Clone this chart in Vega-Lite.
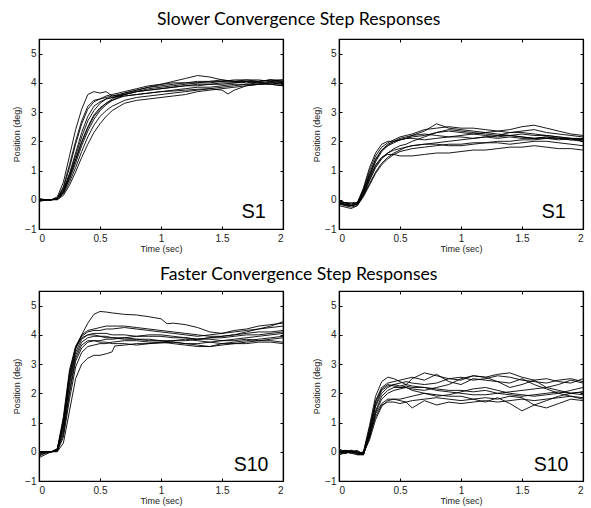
{
"$schema":"https://vega.github.io/schema/vega-lite/v6.json",
"padding":{"left":11,"top":11,"right":2,"bottom":2},
"background":"white",
"config":{
 "view":{"stroke":"black","strokeWidth":1.2},
 "axis":{"grid":false,"domainColor":"black","domainWidth":1.2,"tickColor":"black","tickSize":-3,"labelFont":"Liberation Sans","labelFontSize":10,"labelColor":"#222","titleFont":"Liberation Sans","titleFontSize":9,"titleFontWeight":"normal","titleColor":"#222","format":"~g"},
 "axisX":{"labelPadding":7,"titlePadding":1},
 "axisY":{"labelPadding":6,"titlePadding":3},
 "title":{"font":"Lato","fontSize":17.6,"fontWeight":"normal","color":"black","anchor":"middle"}
},
"vconcat":[
{"title":{"text":"Slower Convergence Step Responses","offset":9},
 "spacing":25,
 "hconcat":[
 {"width":244,"height":190,
  "layer":[
   {"data":{"values":[
{"c":1,"t":0,"y":0},{"c":1,"t":0.05,"y":0},{"c":1,"t":0.1,"y":0},{"c":1,"t":0.15,"y":0.1},{"c":1,"t":0.2,"y":0.6},{"c":1,"t":0.25,"y":1.5},{"c":1,"t":0.3,"y":2.4},{"c":1,"t":0.35,"y":3.1},{"c":1,"t":0.4,"y":3.6},{"c":1,"t":0.45,"y":3.7},{"c":1,"t":0.5,"y":3.65},{"c":1,"t":0.55,"y":3.7},{"c":1,"t":0.6,"y":3.55},{"c":1,"t":0.7,"y":3.6},{"c":1,"t":0.8,"y":3.7},{"c":1,"t":0.9,"y":3.75},{"c":1,"t":1,"y":3.8},{"c":1,"t":1.1,"y":3.85},{"c":1,"t":1.2,"y":3.9},{"c":1,"t":1.3,"y":3.95},{"c":1,"t":1.4,"y":3.95},{"c":1,"t":1.5,"y":4},{"c":1,"t":1.6,"y":4},{"c":1,"t":1.7,"y":4.05},{"c":1,"t":1.8,"y":4},{"c":1,"t":1.9,"y":4.05},{"c":1,"t":2,"y":4},
{"c":2,"t":0,"y":-0.05},{"c":2,"t":0.05,"y":0},{"c":2,"t":0.1,"y":0},{"c":2,"t":0.15,"y":0.05},{"c":2,"t":0.2,"y":0.4},{"c":2,"t":0.25,"y":1.1},{"c":2,"t":0.3,"y":1.9},{"c":2,"t":0.35,"y":2.6},{"c":2,"t":0.4,"y":3.1},{"c":2,"t":0.45,"y":3.35},{"c":2,"t":0.5,"y":3.45},{"c":2,"t":0.55,"y":3.5},{"c":2,"t":0.6,"y":3.55},{"c":2,"t":0.7,"y":3.65},{"c":2,"t":0.8,"y":3.75},{"c":2,"t":0.9,"y":3.85},{"c":2,"t":1,"y":3.95},{"c":2,"t":1.1,"y":4.05},{"c":2,"t":1.2,"y":4.15},{"c":2,"t":1.3,"y":4.25},{"c":2,"t":1.4,"y":4.2},{"c":2,"t":1.5,"y":4.1},{"c":2,"t":1.6,"y":4.05},{"c":2,"t":1.7,"y":4.05},{"c":2,"t":1.8,"y":4},{"c":2,"t":1.9,"y":4},{"c":2,"t":2,"y":3.95},
{"c":3,"t":0,"y":0},{"c":3,"t":0.05,"y":0},{"c":3,"t":0.1,"y":0},{"c":3,"t":0.15,"y":0.05},{"c":3,"t":0.2,"y":0.35},{"c":3,"t":0.25,"y":0.9},{"c":3,"t":0.3,"y":1.6},{"c":3,"t":0.35,"y":2.3},{"c":3,"t":0.4,"y":2.85},{"c":3,"t":0.45,"y":3.2},{"c":3,"t":0.5,"y":3.35},{"c":3,"t":0.55,"y":3.45},{"c":3,"t":0.6,"y":3.5},{"c":3,"t":0.7,"y":3.6},{"c":3,"t":0.8,"y":3.7},{"c":3,"t":0.9,"y":3.75},{"c":3,"t":1,"y":3.8},{"c":3,"t":1.1,"y":3.85},{"c":3,"t":1.2,"y":3.9},{"c":3,"t":1.3,"y":3.9},{"c":3,"t":1.4,"y":3.95},{"c":3,"t":1.5,"y":3.95},{"c":3,"t":1.6,"y":4},{"c":3,"t":1.7,"y":4.05},{"c":3,"t":1.8,"y":4.05},{"c":3,"t":1.9,"y":4.1},{"c":3,"t":2,"y":4.05},
{"c":4,"t":0,"y":0.05},{"c":4,"t":0.05,"y":0},{"c":4,"t":0.1,"y":0},{"c":4,"t":0.15,"y":0.05},{"c":4,"t":0.2,"y":0.3},{"c":4,"t":0.25,"y":0.8},{"c":4,"t":0.3,"y":1.4},{"c":4,"t":0.35,"y":2},{"c":4,"t":0.4,"y":2.5},{"c":4,"t":0.45,"y":2.9},{"c":4,"t":0.5,"y":3.15},{"c":4,"t":0.55,"y":3.3},{"c":4,"t":0.6,"y":3.4},{"c":4,"t":0.7,"y":3.55},{"c":4,"t":0.8,"y":3.6},{"c":4,"t":0.9,"y":3.65},{"c":4,"t":1,"y":3.7},{"c":4,"t":1.1,"y":3.75},{"c":4,"t":1.2,"y":3.8},{"c":4,"t":1.3,"y":3.85},{"c":4,"t":1.4,"y":3.85},{"c":4,"t":1.5,"y":3.9},{"c":4,"t":1.6,"y":3.95},{"c":4,"t":1.7,"y":3.95},{"c":4,"t":1.8,"y":4},{"c":4,"t":1.9,"y":3.95},{"c":4,"t":2,"y":3.9},
{"c":5,"t":0,"y":-0.05},{"c":5,"t":0.05,"y":0},{"c":5,"t":0.1,"y":0},{"c":5,"t":0.15,"y":0.02},{"c":5,"t":0.2,"y":0.25},{"c":5,"t":0.25,"y":0.7},{"c":5,"t":0.3,"y":1.25},{"c":5,"t":0.35,"y":1.85},{"c":5,"t":0.4,"y":2.35},{"c":5,"t":0.45,"y":2.75},{"c":5,"t":0.5,"y":3.05},{"c":5,"t":0.55,"y":3.25},{"c":5,"t":0.6,"y":3.4},{"c":5,"t":0.7,"y":3.6},{"c":5,"t":0.8,"y":3.7},{"c":5,"t":0.9,"y":3.8},{"c":5,"t":1,"y":3.85},{"c":5,"t":1.1,"y":3.9},{"c":5,"t":1.2,"y":3.95},{"c":5,"t":1.3,"y":4},{"c":5,"t":1.4,"y":4},{"c":5,"t":1.5,"y":4.05},{"c":5,"t":1.6,"y":4.05},{"c":5,"t":1.7,"y":4.1},{"c":5,"t":1.8,"y":4.05},{"c":5,"t":1.9,"y":4.1},{"c":5,"t":2,"y":4.1},
{"c":6,"t":0,"y":0},{"c":6,"t":0.05,"y":0},{"c":6,"t":0.1,"y":0},{"c":6,"t":0.15,"y":0.02},{"c":6,"t":0.2,"y":0.2},{"c":6,"t":0.25,"y":0.6},{"c":6,"t":0.3,"y":1.1},{"c":6,"t":0.35,"y":1.65},{"c":6,"t":0.4,"y":2.15},{"c":6,"t":0.45,"y":2.55},{"c":6,"t":0.5,"y":2.85},{"c":6,"t":0.55,"y":3.05},{"c":6,"t":0.6,"y":3.2},{"c":6,"t":0.7,"y":3.4},{"c":6,"t":0.8,"y":3.5},{"c":6,"t":0.9,"y":3.55},{"c":6,"t":1,"y":3.6},{"c":6,"t":1.1,"y":3.65},{"c":6,"t":1.2,"y":3.7},{"c":6,"t":1.3,"y":3.75},{"c":6,"t":1.4,"y":3.8},{"c":6,"t":1.5,"y":3.85},{"c":6,"t":1.6,"y":3.9},{"c":6,"t":1.7,"y":3.95},{"c":6,"t":1.8,"y":3.95},{"c":6,"t":1.9,"y":4},{"c":6,"t":2,"y":3.95},
{"c":7,"t":0,"y":0},{"c":7,"t":0.05,"y":0},{"c":7,"t":0.1,"y":0},{"c":7,"t":0.15,"y":0},{"c":7,"t":0.2,"y":0.15},{"c":7,"t":0.25,"y":0.5},{"c":7,"t":0.3,"y":0.95},{"c":7,"t":0.35,"y":1.45},{"c":7,"t":0.4,"y":1.9},{"c":7,"t":0.45,"y":2.3},{"c":7,"t":0.5,"y":2.6},{"c":7,"t":0.55,"y":2.85},{"c":7,"t":0.6,"y":3.05},{"c":7,"t":0.7,"y":3.3},{"c":7,"t":0.8,"y":3.4},{"c":7,"t":0.9,"y":3.45},{"c":7,"t":1,"y":3.5},{"c":7,"t":1.1,"y":3.55},{"c":7,"t":1.2,"y":3.6},{"c":7,"t":1.3,"y":3.7},{"c":7,"t":1.4,"y":3.75},{"c":7,"t":1.5,"y":3.8},{"c":7,"t":1.6,"y":3.85},{"c":7,"t":1.7,"y":3.9},{"c":7,"t":1.8,"y":3.95},{"c":7,"t":1.9,"y":3.95},{"c":7,"t":2,"y":3.9},
{"c":8,"t":0,"y":0},{"c":8,"t":0.05,"y":0},{"c":8,"t":0.1,"y":0},{"c":8,"t":0.15,"y":0.03},{"c":8,"t":0.2,"y":0.3},{"c":8,"t":0.25,"y":0.85},{"c":8,"t":0.3,"y":1.5},{"c":8,"t":0.35,"y":2.15},{"c":8,"t":0.4,"y":2.7},{"c":8,"t":0.45,"y":3.05},{"c":8,"t":0.5,"y":3.3},{"c":8,"t":0.55,"y":3.45},{"c":8,"t":0.6,"y":3.5},{"c":8,"t":0.7,"y":3.55},{"c":8,"t":0.8,"y":3.6},{"c":8,"t":0.9,"y":3.65},{"c":8,"t":1,"y":3.7},{"c":8,"t":1.1,"y":3.72},{"c":8,"t":1.2,"y":3.75},{"c":8,"t":1.3,"y":3.78},{"c":8,"t":1.4,"y":3.8},{"c":8,"t":1.5,"y":3.75},{"c":8,"t":1.55,"y":3.62},{"c":8,"t":1.6,"y":3.75},{"c":8,"t":1.7,"y":3.9},{"c":8,"t":1.8,"y":3.95},{"c":8,"t":1.9,"y":4},{"c":8,"t":2,"y":4.05},
{"c":9,"t":0,"y":-0.05},{"c":9,"t":0.05,"y":-0.02},{"c":9,"t":0.1,"y":0},{"c":9,"t":0.15,"y":0.05},{"c":9,"t":0.2,"y":0.45},{"c":9,"t":0.25,"y":1.2},{"c":9,"t":0.3,"y":2},{"c":9,"t":0.35,"y":2.7},{"c":9,"t":0.4,"y":3.2},{"c":9,"t":0.45,"y":3.4},{"c":9,"t":0.5,"y":3.45},{"c":9,"t":0.55,"y":3.55},{"c":9,"t":0.6,"y":3.6},{"c":9,"t":0.7,"y":3.7},{"c":9,"t":0.8,"y":3.8},{"c":9,"t":0.9,"y":3.9},{"c":9,"t":1,"y":3.95},{"c":9,"t":1.1,"y":4},{"c":9,"t":1.2,"y":4},{"c":9,"t":1.3,"y":4.05},{"c":9,"t":1.4,"y":4.05},{"c":9,"t":1.5,"y":4.1},{"c":9,"t":1.6,"y":4.05},{"c":9,"t":1.7,"y":4},{"c":9,"t":1.8,"y":4.05},{"c":9,"t":1.9,"y":4.1},{"c":9,"t":2,"y":4},
{"c":10,"t":0,"y":0},{"c":10,"t":0.05,"y":0},{"c":10,"t":0.1,"y":0},{"c":10,"t":0.15,"y":0.03},{"c":10,"t":0.2,"y":0.25},{"c":10,"t":0.25,"y":0.75},{"c":10,"t":0.3,"y":1.35},{"c":10,"t":0.35,"y":1.95},{"c":10,"t":0.4,"y":2.45},{"c":10,"t":0.45,"y":2.85},{"c":10,"t":0.5,"y":3.1},{"c":10,"t":0.55,"y":3.3},{"c":10,"t":0.6,"y":3.45},{"c":10,"t":0.7,"y":3.65},{"c":10,"t":0.8,"y":3.75},{"c":10,"t":0.9,"y":3.85},{"c":10,"t":1,"y":3.9},{"c":10,"t":1.1,"y":3.95},{"c":10,"t":1.2,"y":4},{"c":10,"t":1.3,"y":4},{"c":10,"t":1.4,"y":4.05},{"c":10,"t":1.5,"y":4.05},{"c":10,"t":1.6,"y":4.1},{"c":10,"t":1.7,"y":4.1},{"c":10,"t":1.8,"y":4.1},{"c":10,"t":1.9,"y":4.05},{"c":10,"t":2,"y":4.1}
   ]},
    "mark":{"type":"line","color":"black","strokeWidth":0.9},
    "encoding":{
     "x":{"field":"t","type":"quantitative","scale":{"domain":[0,2],"nice":false},"axis":{"values":[0,0.5,1,1.5,2],"title":"Time (sec)"}},
     "y":{"field":"y","type":"quantitative","scale":{"domain":[-1,5.5],"nice":false,"zero":false},"axis":{"values":[-1,0,1,2,3,4,5],"title":"Position (deg)"}},
     "detail":{"field":"c"}}},
   {"data":{"values":[{"t":0,"y":0}]},"mark":{"type":"point","opacity":0},
    "encoding":{"x":{"field":"t","type":"quantitative","axis":{"orient":"top","values":[0,0.5,1,1.5,2],"labels":false,"title":null}},
     "y":{"field":"y","type":"quantitative","axis":{"orient":"right","values":[-1,0,1,2,3,4,5],"labels":false,"title":null}}}},
   {"data":{"values":[{"lab":"S1"}]},"mark":{"type":"text","font":"Liberation Sans","fontSize":20,"align":"right","baseline":"alphabetic"},
    "encoding":{"x":{"datum":1.86,"type":"quantitative","axis":null},"y":{"datum":-0.62,"type":"quantitative","axis":null},"text":{"field":"lab"}}}
  ],
  "resolve":{"axis":{"x":"independent","y":"independent"}}},
 {"width":244,"height":190,
  "layer":[
   {"data":{"values":[
{"c":1,"t":0,"y":-0.05},{"c":1,"t":0.05,"y":-0.1},{"c":1,"t":0.1,"y":-0.15},{"c":1,"t":0.15,"y":-0.1},{"c":1,"t":0.2,"y":0.4},{"c":1,"t":0.25,"y":1.1},{"c":1,"t":0.3,"y":1.6},{"c":1,"t":0.35,"y":1.9},{"c":1,"t":0.4,"y":2},{"c":1,"t":0.45,"y":2},{"c":1,"t":0.5,"y":2.05},{"c":1,"t":0.55,"y":2.1},{"c":1,"t":0.6,"y":2.15},{"c":1,"t":0.7,"y":2.2},{"c":1,"t":0.8,"y":2.3},{"c":1,"t":0.9,"y":2.4},{"c":1,"t":1,"y":2.35},{"c":1,"t":1.1,"y":2.3},{"c":1,"t":1.2,"y":2.25},{"c":1,"t":1.3,"y":2.2},{"c":1,"t":1.4,"y":2.2},{"c":1,"t":1.5,"y":2.15},{"c":1,"t":1.6,"y":2.1},{"c":1,"t":1.7,"y":2.1},{"c":1,"t":1.8,"y":2.05},{"c":1,"t":1.9,"y":2.1},{"c":1,"t":2,"y":2.05},
{"c":2,"t":0,"y":-0.1},{"c":2,"t":0.05,"y":-0.15},{"c":2,"t":0.1,"y":-0.2},{"c":2,"t":0.15,"y":-0.15},{"c":2,"t":0.2,"y":0.2},{"c":2,"t":0.25,"y":0.75},{"c":2,"t":0.3,"y":1.2},{"c":2,"t":0.35,"y":1.45},{"c":2,"t":0.4,"y":1.55},{"c":2,"t":0.45,"y":1.55},{"c":2,"t":0.5,"y":1.5},{"c":2,"t":0.55,"y":1.5},{"c":2,"t":0.6,"y":1.5},{"c":2,"t":0.7,"y":1.55},{"c":2,"t":0.8,"y":1.6},{"c":2,"t":0.9,"y":1.6},{"c":2,"t":1,"y":1.65},{"c":2,"t":1.1,"y":1.7},{"c":2,"t":1.2,"y":1.7},{"c":2,"t":1.3,"y":1.75},{"c":2,"t":1.4,"y":1.8},{"c":2,"t":1.5,"y":1.8},{"c":2,"t":1.6,"y":1.85},{"c":2,"t":1.7,"y":1.8},{"c":2,"t":1.8,"y":1.75},{"c":2,"t":1.9,"y":1.75},{"c":2,"t":2,"y":1.7},
{"c":3,"t":0,"y":-0.15},{"c":3,"t":0.05,"y":-0.2},{"c":3,"t":0.1,"y":-0.25},{"c":3,"t":0.15,"y":-0.2},{"c":3,"t":0.2,"y":0.15},{"c":3,"t":0.25,"y":0.65},{"c":3,"t":0.3,"y":1.1},{"c":3,"t":0.35,"y":1.4},{"c":3,"t":0.4,"y":1.6},{"c":3,"t":0.45,"y":1.75},{"c":3,"t":0.5,"y":1.85},{"c":3,"t":0.55,"y":1.9},{"c":3,"t":0.6,"y":2},{"c":3,"t":0.7,"y":2.15},{"c":3,"t":0.8,"y":2.3},{"c":3,"t":0.9,"y":2.35},{"c":3,"t":1,"y":2.3},{"c":3,"t":1.1,"y":2.25},{"c":3,"t":1.2,"y":2.3},{"c":3,"t":1.3,"y":2.35},{"c":3,"t":1.4,"y":2.4},{"c":3,"t":1.5,"y":2.5},{"c":3,"t":1.6,"y":2.55},{"c":3,"t":1.7,"y":2.45},{"c":3,"t":1.8,"y":2.35},{"c":3,"t":1.9,"y":2.25},{"c":3,"t":2,"y":2.2},
{"c":4,"t":0,"y":-0.05},{"c":4,"t":0.05,"y":-0.1},{"c":4,"t":0.1,"y":-0.1},{"c":4,"t":0.15,"y":-0.1},{"c":4,"t":0.2,"y":0.3},{"c":4,"t":0.25,"y":0.9},{"c":4,"t":0.3,"y":1.4},{"c":4,"t":0.35,"y":1.7},{"c":4,"t":0.4,"y":1.85},{"c":4,"t":0.45,"y":1.95},{"c":4,"t":0.5,"y":2.05},{"c":4,"t":0.55,"y":2.1},{"c":4,"t":0.6,"y":2.2},{"c":4,"t":0.7,"y":2.35},{"c":4,"t":0.8,"y":2.6},{"c":4,"t":0.9,"y":2.45},{"c":4,"t":1,"y":2.4},{"c":4,"t":1.1,"y":2.35},{"c":4,"t":1.2,"y":2.3},{"c":4,"t":1.3,"y":2.25},{"c":4,"t":1.4,"y":2.2},{"c":4,"t":1.5,"y":2.15},{"c":4,"t":1.6,"y":2.1},{"c":4,"t":1.7,"y":2.15},{"c":4,"t":1.8,"y":2.1},{"c":4,"t":1.9,"y":2.05},{"c":4,"t":2,"y":2.1},
{"c":5,"t":0,"y":-0.2},{"c":5,"t":0.05,"y":-0.25},{"c":5,"t":0.1,"y":-0.3},{"c":5,"t":0.15,"y":-0.2},{"c":5,"t":0.2,"y":0.1},{"c":5,"t":0.25,"y":0.5},{"c":5,"t":0.3,"y":0.9},{"c":5,"t":0.35,"y":1.2},{"c":5,"t":0.4,"y":1.4},{"c":5,"t":0.45,"y":1.55},{"c":5,"t":0.5,"y":1.65},{"c":5,"t":0.55,"y":1.7},{"c":5,"t":0.6,"y":1.75},{"c":5,"t":0.7,"y":1.8},{"c":5,"t":0.8,"y":1.85},{"c":5,"t":0.9,"y":1.9},{"c":5,"t":1,"y":1.9},{"c":5,"t":1.1,"y":1.95},{"c":5,"t":1.2,"y":1.95},{"c":5,"t":1.3,"y":2},{"c":5,"t":1.4,"y":2},{"c":5,"t":1.5,"y":2.05},{"c":5,"t":1.6,"y":2.05},{"c":5,"t":1.7,"y":2.1},{"c":5,"t":1.8,"y":2.1},{"c":5,"t":1.9,"y":2.05},{"c":5,"t":2,"y":2},
{"c":6,"t":0,"y":-0.1},{"c":6,"t":0.05,"y":-0.1},{"c":6,"t":0.1,"y":-0.15},{"c":6,"t":0.15,"y":-0.1},{"c":6,"t":0.2,"y":0.25},{"c":6,"t":0.25,"y":0.8},{"c":6,"t":0.3,"y":1.3},{"c":6,"t":0.35,"y":1.65},{"c":6,"t":0.4,"y":1.85},{"c":6,"t":0.45,"y":2},{"c":6,"t":0.5,"y":2.1},{"c":6,"t":0.55,"y":2.15},{"c":6,"t":0.6,"y":2.2},{"c":6,"t":0.7,"y":2.25},{"c":6,"t":0.8,"y":2.2},{"c":6,"t":0.9,"y":2.15},{"c":6,"t":1,"y":2.15},{"c":6,"t":1.1,"y":2.1},{"c":6,"t":1.2,"y":2.15},{"c":6,"t":1.3,"y":2.1},{"c":6,"t":1.4,"y":2.15},{"c":6,"t":1.5,"y":2.1},{"c":6,"t":1.6,"y":2.1},{"c":6,"t":1.7,"y":2.15},{"c":6,"t":1.8,"y":2.1},{"c":6,"t":1.9,"y":2.1},{"c":6,"t":2,"y":2.05},
{"c":7,"t":0,"y":-0.1},{"c":7,"t":0.05,"y":-0.2},{"c":7,"t":0.1,"y":-0.2},{"c":7,"t":0.15,"y":-0.15},{"c":7,"t":0.2,"y":0.2},{"c":7,"t":0.25,"y":0.7},{"c":7,"t":0.3,"y":1.15},{"c":7,"t":0.35,"y":1.45},{"c":7,"t":0.4,"y":1.6},{"c":7,"t":0.45,"y":1.7},{"c":7,"t":0.5,"y":1.75},{"c":7,"t":0.55,"y":1.8},{"c":7,"t":0.6,"y":1.85},{"c":7,"t":0.7,"y":1.9},{"c":7,"t":0.8,"y":1.95},{"c":7,"t":0.9,"y":2},{"c":7,"t":1,"y":2.05},{"c":7,"t":1.1,"y":2.1},{"c":7,"t":1.2,"y":2.15},{"c":7,"t":1.3,"y":2.2},{"c":7,"t":1.4,"y":2.3},{"c":7,"t":1.5,"y":2.35},{"c":7,"t":1.6,"y":2.4},{"c":7,"t":1.7,"y":2.3},{"c":7,"t":1.8,"y":2.25},{"c":7,"t":1.9,"y":2.2},{"c":7,"t":2,"y":2.15},
{"c":8,"t":0,"y":-0.15},{"c":8,"t":0.05,"y":-0.15},{"c":8,"t":0.1,"y":-0.2},{"c":8,"t":0.15,"y":-0.15},{"c":8,"t":0.2,"y":0.35},{"c":8,"t":0.25,"y":1},{"c":8,"t":0.3,"y":1.5},{"c":8,"t":0.35,"y":1.8},{"c":8,"t":0.4,"y":1.95},{"c":8,"t":0.45,"y":2.05},{"c":8,"t":0.5,"y":2.15},{"c":8,"t":0.55,"y":2.2},{"c":8,"t":0.6,"y":2.25},{"c":8,"t":0.7,"y":2.4},{"c":8,"t":0.8,"y":2.45},{"c":8,"t":0.9,"y":2.5},{"c":8,"t":1,"y":2.45},{"c":8,"t":1.1,"y":2.45},{"c":8,"t":1.2,"y":2.4},{"c":8,"t":1.3,"y":2.35},{"c":8,"t":1.4,"y":2.3},{"c":8,"t":1.5,"y":2.3},{"c":8,"t":1.6,"y":2.25},{"c":8,"t":1.7,"y":2.2},{"c":8,"t":1.8,"y":2.15},{"c":8,"t":1.9,"y":2.1},{"c":8,"t":2,"y":2.1},
{"c":9,"t":0,"y":-0.05},{"c":9,"t":0.05,"y":-0.1},{"c":9,"t":0.1,"y":-0.2},{"c":9,"t":0.15,"y":-0.15},{"c":9,"t":0.2,"y":0.15},{"c":9,"t":0.25,"y":0.55},{"c":9,"t":0.3,"y":0.95},{"c":9,"t":0.35,"y":1.25},{"c":9,"t":0.4,"y":1.45},{"c":9,"t":0.45,"y":1.6},{"c":9,"t":0.5,"y":1.7},{"c":9,"t":0.55,"y":1.8},{"c":9,"t":0.6,"y":1.85},{"c":9,"t":0.7,"y":1.9},{"c":9,"t":0.8,"y":1.9},{"c":9,"t":0.9,"y":1.85},{"c":9,"t":1,"y":1.85},{"c":9,"t":1.1,"y":1.9},{"c":9,"t":1.2,"y":1.95},{"c":9,"t":1.3,"y":1.95},{"c":9,"t":1.4,"y":1.9},{"c":9,"t":1.5,"y":1.95},{"c":9,"t":1.6,"y":2},{"c":9,"t":1.7,"y":2},{"c":9,"t":1.8,"y":1.95},{"c":9,"t":1.9,"y":1.9},{"c":9,"t":2,"y":1.85},
{"c":10,"t":0,"y":-0.1},{"c":10,"t":0.05,"y":-0.15},{"c":10,"t":0.1,"y":-0.2},{"c":10,"t":0.15,"y":-0.1},{"c":10,"t":0.2,"y":0.3},{"c":10,"t":0.25,"y":0.85},{"c":10,"t":0.3,"y":1.35},{"c":10,"t":0.35,"y":1.7},{"c":10,"t":0.4,"y":1.9},{"c":10,"t":0.45,"y":2},{"c":10,"t":0.5,"y":2.05},{"c":10,"t":0.55,"y":2.1},{"c":10,"t":0.6,"y":2.1},{"c":10,"t":0.7,"y":2.05},{"c":10,"t":0.8,"y":2.1},{"c":10,"t":0.9,"y":2.15},{"c":10,"t":1,"y":2.2},{"c":10,"t":1.1,"y":2.25},{"c":10,"t":1.2,"y":2.2},{"c":10,"t":1.3,"y":2.15},{"c":10,"t":1.4,"y":2.2},{"c":10,"t":1.5,"y":2.25},{"c":10,"t":1.6,"y":2.2},{"c":10,"t":1.7,"y":2.2},{"c":10,"t":1.8,"y":2.15},{"c":10,"t":1.9,"y":2.1},{"c":10,"t":2,"y":2}
   ]},
    "mark":{"type":"line","color":"black","strokeWidth":0.9},
    "encoding":{
     "x":{"field":"t","type":"quantitative","scale":{"domain":[0,2],"nice":false},"axis":{"values":[0,0.5,1,1.5,2],"title":"Time (sec)"}},
     "y":{"field":"y","type":"quantitative","scale":{"domain":[-1,5.5],"nice":false,"zero":false},"axis":{"values":[-1,0,1,2,3,4,5],"title":"Position (deg)"}},
     "detail":{"field":"c"}}},
   {"data":{"values":[{"t":0,"y":0}]},"mark":{"type":"point","opacity":0},
    "encoding":{"x":{"field":"t","type":"quantitative","axis":{"orient":"top","values":[0,0.5,1,1.5,2],"labels":false,"title":null}},
     "y":{"field":"y","type":"quantitative","axis":{"orient":"right","values":[-1,0,1,2,3,4,5],"labels":false,"title":null}}}},
   {"data":{"values":[{"lab":"S1"}]},"mark":{"type":"text","font":"Liberation Sans","fontSize":20,"align":"right","baseline":"alphabetic"},
    "encoding":{"x":{"datum":1.86,"type":"quantitative","axis":null},"y":{"datum":-0.62,"type":"quantitative","axis":null},"text":{"field":"lab"}}}
  ],
  "resolve":{"axis":{"x":"independent","y":"independent"}}}
 ]},
{"title":{"text":"Faster Convergence Step Responses","offset":6},
 "spacing":25,
 "hconcat":[
 {"width":244,"height":190,
  "layer":[
   {"data":{"values":[
{"c":1,"t":0,"y":-0.05},{"c":1,"t":0.05,"y":0},{"c":1,"t":0.1,"y":0},{"c":1,"t":0.15,"y":0.1},{"c":1,"t":0.2,"y":1},{"c":1,"t":0.25,"y":2.6},{"c":1,"t":0.3,"y":3.6},{"c":1,"t":0.35,"y":4},{"c":1,"t":0.4,"y":4.4},{"c":1,"t":0.45,"y":4.7},{"c":1,"t":0.5,"y":4.8},{"c":1,"t":0.55,"y":4.78},{"c":1,"t":0.6,"y":4.75},{"c":1,"t":0.7,"y":4.7},{"c":1,"t":0.8,"y":4.68},{"c":1,"t":0.9,"y":4.62},{"c":1,"t":1,"y":4.55},{"c":1,"t":1.05,"y":4.38},{"c":1,"t":1.1,"y":4.4},{"c":1,"t":1.2,"y":4.35},{"c":1,"t":1.3,"y":4.25},{"c":1,"t":1.4,"y":4.1},{"c":1,"t":1.5,"y":4.05},{"c":1,"t":1.6,"y":4.15},{"c":1,"t":1.7,"y":4.2},{"c":1,"t":1.8,"y":4.3},{"c":1,"t":1.9,"y":4.35},{"c":1,"t":2,"y":4.4},
{"c":2,"t":0,"y":-0.2},{"c":2,"t":0.05,"y":-0.1},{"c":2,"t":0.1,"y":0},{"c":2,"t":0.15,"y":0},{"c":2,"t":0.2,"y":0.3},{"c":2,"t":0.25,"y":1.4},{"c":2,"t":0.3,"y":2.5},{"c":2,"t":0.35,"y":3},{"c":2,"t":0.4,"y":3.2},{"c":2,"t":0.45,"y":3.3},{"c":2,"t":0.5,"y":3.3},{"c":2,"t":0.55,"y":3.35},{"c":2,"t":0.6,"y":3.42},{"c":2,"t":0.62,"y":3.62},{"c":2,"t":0.7,"y":3.65},{"c":2,"t":0.8,"y":3.7},{"c":2,"t":0.9,"y":3.7},{"c":2,"t":1,"y":3.72},{"c":2,"t":1.1,"y":3.75},{"c":2,"t":1.2,"y":3.7},{"c":2,"t":1.3,"y":3.7},{"c":2,"t":1.4,"y":3.75},{"c":2,"t":1.5,"y":3.8},{"c":2,"t":1.6,"y":3.8},{"c":2,"t":1.7,"y":3.85},{"c":2,"t":1.8,"y":3.8},{"c":2,"t":1.9,"y":3.8},{"c":2,"t":2,"y":3.75},
{"c":3,"t":0,"y":-0.1},{"c":3,"t":0.05,"y":-0.05},{"c":3,"t":0.1,"y":0},{"c":3,"t":0.15,"y":0.1},{"c":3,"t":0.2,"y":1.2},{"c":3,"t":0.25,"y":2.8},{"c":3,"t":0.3,"y":3.6},{"c":3,"t":0.35,"y":3.95},{"c":3,"t":0.4,"y":4.1},{"c":3,"t":0.45,"y":4.15},{"c":3,"t":0.5,"y":4.15},{"c":3,"t":0.55,"y":4.2},{"c":3,"t":0.6,"y":4.2},{"c":3,"t":0.7,"y":4.25},{"c":3,"t":0.8,"y":4.2},{"c":3,"t":0.9,"y":4.15},{"c":3,"t":1,"y":4.1},{"c":3,"t":1.1,"y":4.05},{"c":3,"t":1.2,"y":4},{"c":3,"t":1.3,"y":3.95},{"c":3,"t":1.4,"y":4},{"c":3,"t":1.5,"y":4.05},{"c":3,"t":1.6,"y":4.1},{"c":3,"t":1.7,"y":4.15},{"c":3,"t":1.8,"y":4.2},{"c":3,"t":1.9,"y":4.25},{"c":3,"t":2,"y":4.3},
{"c":4,"t":0,"y":0},{"c":4,"t":0.05,"y":0},{"c":4,"t":0.1,"y":0},{"c":4,"t":0.15,"y":0.05},{"c":4,"t":0.2,"y":0.8},{"c":4,"t":0.25,"y":2.3},{"c":4,"t":0.3,"y":3.3},{"c":4,"t":0.35,"y":3.75},{"c":4,"t":0.4,"y":3.9},{"c":4,"t":0.45,"y":3.95},{"c":4,"t":0.5,"y":3.95},{"c":4,"t":0.55,"y":3.9},{"c":4,"t":0.6,"y":3.9},{"c":4,"t":0.7,"y":3.85},{"c":4,"t":0.8,"y":3.85},{"c":4,"t":0.9,"y":3.8},{"c":4,"t":1,"y":3.8},{"c":4,"t":1.1,"y":3.75},{"c":4,"t":1.2,"y":3.7},{"c":4,"t":1.3,"y":3.65},{"c":4,"t":1.4,"y":3.6},{"c":4,"t":1.5,"y":3.7},{"c":4,"t":1.6,"y":3.75},{"c":4,"t":1.7,"y":3.8},{"c":4,"t":1.8,"y":3.85},{"c":4,"t":1.9,"y":3.9},{"c":4,"t":2,"y":3.95},
{"c":5,"t":0,"y":-0.1},{"c":5,"t":0.05,"y":0},{"c":5,"t":0.1,"y":0},{"c":5,"t":0.15,"y":0.05},{"c":5,"t":0.2,"y":0.9},{"c":5,"t":0.25,"y":2.4},{"c":5,"t":0.3,"y":3.4},{"c":5,"t":0.35,"y":3.85},{"c":5,"t":0.4,"y":4},{"c":5,"t":0.45,"y":4.05},{"c":5,"t":0.5,"y":4.05},{"c":5,"t":0.55,"y":4.05},{"c":5,"t":0.6,"y":4},{"c":5,"t":0.7,"y":4},{"c":5,"t":0.8,"y":3.95},{"c":5,"t":0.9,"y":3.95},{"c":5,"t":1,"y":3.95},{"c":5,"t":1.1,"y":3.9},{"c":5,"t":1.2,"y":3.9},{"c":5,"t":1.3,"y":3.85},{"c":5,"t":1.4,"y":3.9},{"c":5,"t":1.5,"y":3.95},{"c":5,"t":1.6,"y":4},{"c":5,"t":1.7,"y":4.05},{"c":5,"t":1.8,"y":4.1},{"c":5,"t":1.9,"y":4.1},{"c":5,"t":2,"y":4.15},
{"c":6,"t":0,"y":0},{"c":6,"t":0.05,"y":0},{"c":6,"t":0.1,"y":0},{"c":6,"t":0.15,"y":0.02},{"c":6,"t":0.2,"y":0.5},{"c":6,"t":0.25,"y":1.8},{"c":6,"t":0.3,"y":2.9},{"c":6,"t":0.35,"y":3.4},{"c":6,"t":0.4,"y":3.6},{"c":6,"t":0.45,"y":3.65},{"c":6,"t":0.5,"y":3.7},{"c":6,"t":0.55,"y":3.7},{"c":6,"t":0.6,"y":3.75},{"c":6,"t":0.7,"y":3.8},{"c":6,"t":0.8,"y":3.8},{"c":6,"t":0.9,"y":3.75},{"c":6,"t":1,"y":3.75},{"c":6,"t":1.1,"y":3.7},{"c":6,"t":1.2,"y":3.65},{"c":6,"t":1.3,"y":3.6},{"c":6,"t":1.4,"y":3.6},{"c":6,"t":1.5,"y":3.65},{"c":6,"t":1.6,"y":3.7},{"c":6,"t":1.7,"y":3.7},{"c":6,"t":1.8,"y":3.75},{"c":6,"t":1.9,"y":3.75},{"c":6,"t":2,"y":3.7},
{"c":7,"t":0,"y":-0.05},{"c":7,"t":0.05,"y":0},{"c":7,"t":0.1,"y":0},{"c":7,"t":0.15,"y":0.08},{"c":7,"t":0.2,"y":1.1},{"c":7,"t":0.25,"y":2.7},{"c":7,"t":0.3,"y":3.55},{"c":7,"t":0.35,"y":3.9},{"c":7,"t":0.4,"y":4},{"c":7,"t":0.45,"y":4},{"c":7,"t":0.5,"y":3.95},{"c":7,"t":0.55,"y":3.95},{"c":7,"t":0.6,"y":3.9},{"c":7,"t":0.7,"y":3.9},{"c":7,"t":0.8,"y":3.85},{"c":7,"t":0.9,"y":3.85},{"c":7,"t":1,"y":3.8},{"c":7,"t":1.1,"y":3.8},{"c":7,"t":1.2,"y":3.8},{"c":7,"t":1.3,"y":3.85},{"c":7,"t":1.4,"y":3.9},{"c":7,"t":1.5,"y":3.9},{"c":7,"t":1.6,"y":3.95},{"c":7,"t":1.7,"y":4},{"c":7,"t":1.8,"y":4},{"c":7,"t":1.9,"y":4.05},{"c":7,"t":2,"y":4.1},
{"c":8,"t":0,"y":0},{"c":8,"t":0.05,"y":0},{"c":8,"t":0.1,"y":0},{"c":8,"t":0.15,"y":0.03},{"c":8,"t":0.2,"y":0.6},{"c":8,"t":0.25,"y":2},{"c":8,"t":0.3,"y":3.1},{"c":8,"t":0.35,"y":3.55},{"c":8,"t":0.4,"y":3.75},{"c":8,"t":0.45,"y":3.8},{"c":8,"t":0.5,"y":3.8},{"c":8,"t":0.55,"y":3.85},{"c":8,"t":0.6,"y":3.85},{"c":8,"t":0.7,"y":3.9},{"c":8,"t":0.8,"y":3.95},{"c":8,"t":0.9,"y":4},{"c":8,"t":1,"y":4},{"c":8,"t":1.1,"y":3.95},{"c":8,"t":1.2,"y":3.9},{"c":8,"t":1.3,"y":3.85},{"c":8,"t":1.4,"y":3.85},{"c":8,"t":1.5,"y":3.8},{"c":8,"t":1.6,"y":3.85},{"c":8,"t":1.7,"y":3.9},{"c":8,"t":1.8,"y":3.95},{"c":8,"t":1.9,"y":4},{"c":8,"t":2,"y":4.05},
{"c":9,"t":0,"y":-0.15},{"c":9,"t":0.05,"y":-0.05},{"c":9,"t":0.1,"y":0},{"c":9,"t":0.15,"y":0.06},{"c":9,"t":0.2,"y":1},{"c":9,"t":0.25,"y":2.5},{"c":9,"t":0.3,"y":3.5},{"c":9,"t":0.35,"y":4},{"c":9,"t":0.4,"y":4.15},{"c":9,"t":0.45,"y":4.2},{"c":9,"t":0.5,"y":4.25},{"c":9,"t":0.55,"y":4.3},{"c":9,"t":0.6,"y":4.3},{"c":9,"t":0.7,"y":4.3},{"c":9,"t":0.8,"y":4.25},{"c":9,"t":0.9,"y":4.2},{"c":9,"t":1,"y":4.15},{"c":9,"t":1.1,"y":4.1},{"c":9,"t":1.2,"y":4.05},{"c":9,"t":1.3,"y":4},{"c":9,"t":1.4,"y":3.95},{"c":9,"t":1.5,"y":3.95},{"c":9,"t":1.6,"y":4},{"c":9,"t":1.7,"y":4.1},{"c":9,"t":1.8,"y":4.2},{"c":9,"t":1.9,"y":4.3},{"c":9,"t":2,"y":4.45},
{"c":10,"t":0,"y":0},{"c":10,"t":0.05,"y":0},{"c":10,"t":0.1,"y":0},{"c":10,"t":0.15,"y":0.04},{"c":10,"t":0.2,"y":0.7},{"c":10,"t":0.25,"y":2.1},{"c":10,"t":0.3,"y":3.2},{"c":10,"t":0.35,"y":3.65},{"c":10,"t":0.4,"y":3.8},{"c":10,"t":0.45,"y":3.8},{"c":10,"t":0.5,"y":3.75},{"c":10,"t":0.55,"y":3.75},{"c":10,"t":0.6,"y":3.7},{"c":10,"t":0.7,"y":3.7},{"c":10,"t":0.8,"y":3.65},{"c":10,"t":0.9,"y":3.7},{"c":10,"t":1,"y":3.75},{"c":10,"t":1.1,"y":3.8},{"c":10,"t":1.2,"y":3.85},{"c":10,"t":1.3,"y":3.8},{"c":10,"t":1.4,"y":3.75},{"c":10,"t":1.5,"y":3.7},{"c":10,"t":1.6,"y":3.7},{"c":10,"t":1.7,"y":3.75},{"c":10,"t":1.8,"y":3.8},{"c":10,"t":1.9,"y":3.85},{"c":10,"t":2,"y":3.9}
   ]},
    "mark":{"type":"line","color":"black","strokeWidth":0.9},
    "encoding":{
     "x":{"field":"t","type":"quantitative","scale":{"domain":[0,2],"nice":false},"axis":{"values":[0,0.5,1,1.5,2],"title":"Time (sec)"}},
     "y":{"field":"y","type":"quantitative","scale":{"domain":[-1,5.5],"nice":false,"zero":false},"axis":{"values":[-1,0,1,2,3,4,5],"title":"Position (deg)"}},
     "detail":{"field":"c"}}},
   {"data":{"values":[{"t":0,"y":0}]},"mark":{"type":"point","opacity":0},
    "encoding":{"x":{"field":"t","type":"quantitative","axis":{"orient":"top","values":[0,0.5,1,1.5,2],"labels":false,"title":null}},
     "y":{"field":"y","type":"quantitative","axis":{"orient":"right","values":[-1,0,1,2,3,4,5],"labels":false,"title":null}}}},
   {"data":{"values":[{"lab":"S10"}]},"mark":{"type":"text","font":"Liberation Sans","fontSize":19.5,"align":"right","baseline":"alphabetic"},
    "encoding":{"x":{"datum":1.88,"type":"quantitative","axis":null},"y":{"datum":-0.65,"type":"quantitative","axis":null},"text":{"field":"lab"}}}
  ],
  "resolve":{"axis":{"x":"independent","y":"independent"}}},
 {"width":244,"height":190,
  "layer":[
   {"data":{"values":[
{"c":1,"t":0,"y":0.1},{"c":1,"t":0.05,"y":0},{"c":1,"t":0.1,"y":0.05},{"c":1,"t":0.15,"y":-0.05},{"c":1,"t":0.2,"y":0},{"c":1,"t":0.25,"y":0.9},{"c":1,"t":0.3,"y":1.9},{"c":1,"t":0.35,"y":2.4},{"c":1,"t":0.4,"y":2.55},{"c":1,"t":0.45,"y":2.5},{"c":1,"t":0.5,"y":2.4},{"c":1,"t":0.55,"y":2.3},{"c":1,"t":0.6,"y":2.25},{"c":1,"t":0.7,"y":2.2},{"c":1,"t":0.8,"y":2.1},{"c":1,"t":0.9,"y":2.05},{"c":1,"t":1,"y":2},{"c":1,"t":1.1,"y":1.95},{"c":1,"t":1.2,"y":1.95},{"c":1,"t":1.3,"y":2},{"c":1,"t":1.4,"y":1.95},{"c":1,"t":1.5,"y":1.9},{"c":1,"t":1.6,"y":1.95},{"c":1,"t":1.7,"y":2},{"c":1,"t":1.8,"y":2.05},{"c":1,"t":1.9,"y":2},{"c":1,"t":2,"y":1.95},
{"c":2,"t":0,"y":-0.1},{"c":2,"t":0.05,"y":0},{"c":2,"t":0.1,"y":-0.05},{"c":2,"t":0.15,"y":-0.1},{"c":2,"t":0.2,"y":-0.1},{"c":2,"t":0.25,"y":0.5},{"c":2,"t":0.3,"y":1.3},{"c":2,"t":0.35,"y":1.65},{"c":2,"t":0.4,"y":1.8},{"c":2,"t":0.45,"y":1.8},{"c":2,"t":0.5,"y":1.75},{"c":2,"t":0.55,"y":1.7},{"c":2,"t":0.6,"y":1.5},{"c":2,"t":0.7,"y":1.75},{"c":2,"t":0.8,"y":1.6},{"c":2,"t":0.9,"y":1.7},{"c":2,"t":1,"y":1.65},{"c":2,"t":1.1,"y":1.7},{"c":2,"t":1.2,"y":1.75},{"c":2,"t":1.3,"y":1.7},{"c":2,"t":1.4,"y":1.75},{"c":2,"t":1.5,"y":1.8},{"c":2,"t":1.6,"y":1.75},{"c":2,"t":1.7,"y":1.8},{"c":2,"t":1.8,"y":1.85},{"c":2,"t":1.9,"y":1.9},{"c":2,"t":2,"y":1.85},
{"c":3,"t":0,"y":0},{"c":3,"t":0.05,"y":0.05},{"c":3,"t":0.1,"y":0},{"c":3,"t":0.15,"y":-0.05},{"c":3,"t":0.2,"y":-0.05},{"c":3,"t":0.25,"y":0.7},{"c":3,"t":0.3,"y":1.6},{"c":3,"t":0.35,"y":2.1},{"c":3,"t":0.4,"y":2.25},{"c":3,"t":0.45,"y":2.3},{"c":3,"t":0.5,"y":2.25},{"c":3,"t":0.55,"y":2.3},{"c":3,"t":0.6,"y":2.5},{"c":3,"t":0.7,"y":2.7},{"c":3,"t":0.8,"y":2.6},{"c":3,"t":0.9,"y":2.5},{"c":3,"t":1,"y":2.55},{"c":3,"t":1.1,"y":2.45},{"c":3,"t":1.2,"y":2.5},{"c":3,"t":1.3,"y":2.6},{"c":3,"t":1.4,"y":2.55},{"c":3,"t":1.5,"y":2.45},{"c":3,"t":1.6,"y":2.4},{"c":3,"t":1.7,"y":2.35},{"c":3,"t":1.8,"y":2.45},{"c":3,"t":1.9,"y":2.5},{"c":3,"t":2,"y":2.4},
{"c":4,"t":0,"y":0.05},{"c":4,"t":0.05,"y":-0.05},{"c":4,"t":0.1,"y":0},{"c":4,"t":0.15,"y":0},{"c":4,"t":0.2,"y":-0.1},{"c":4,"t":0.25,"y":0.6},{"c":4,"t":0.3,"y":1.4},{"c":4,"t":0.35,"y":1.9},{"c":4,"t":0.4,"y":2.1},{"c":4,"t":0.45,"y":2.2},{"c":4,"t":0.5,"y":2.2},{"c":4,"t":0.55,"y":2.2},{"c":4,"t":0.6,"y":2.15},{"c":4,"t":0.7,"y":2.1},{"c":4,"t":0.8,"y":2.2},{"c":4,"t":0.9,"y":2.3},{"c":4,"t":1,"y":2.5},{"c":4,"t":1.1,"y":2.6},{"c":4,"t":1.2,"y":2.55},{"c":4,"t":1.3,"y":2.65},{"c":4,"t":1.4,"y":2.7},{"c":4,"t":1.5,"y":2.55},{"c":4,"t":1.6,"y":2.45},{"c":4,"t":1.7,"y":2.2},{"c":4,"t":1.8,"y":2.1},{"c":4,"t":1.9,"y":2},{"c":4,"t":2,"y":2.05},
{"c":5,"t":0,"y":-0.05},{"c":5,"t":0.05,"y":0},{"c":5,"t":0.1,"y":0},{"c":5,"t":0.15,"y":-0.05},{"c":5,"t":0.2,"y":-0.05},{"c":5,"t":0.25,"y":0.4},{"c":5,"t":0.3,"y":1.1},{"c":5,"t":0.35,"y":1.55},{"c":5,"t":0.4,"y":1.75},{"c":5,"t":0.45,"y":1.8},{"c":5,"t":0.5,"y":1.8},{"c":5,"t":0.55,"y":1.85},{"c":5,"t":0.6,"y":1.9},{"c":5,"t":0.7,"y":2},{"c":5,"t":0.8,"y":1.95},{"c":5,"t":0.9,"y":1.9},{"c":5,"t":1,"y":1.9},{"c":5,"t":1.1,"y":1.8},{"c":5,"t":1.2,"y":1.7},{"c":5,"t":1.3,"y":1.85},{"c":5,"t":1.4,"y":1.65},{"c":5,"t":1.5,"y":1.4},{"c":5,"t":1.6,"y":1.6},{"c":5,"t":1.7,"y":1.75},{"c":5,"t":1.8,"y":1.9},{"c":5,"t":1.9,"y":2},{"c":5,"t":2,"y":2.05},
{"c":6,"t":0,"y":0},{"c":6,"t":0.05,"y":0},{"c":6,"t":0.1,"y":0.05},{"c":6,"t":0.15,"y":0},{"c":6,"t":0.2,"y":-0.05},{"c":6,"t":0.25,"y":0.8},{"c":6,"t":0.3,"y":1.75},{"c":6,"t":0.35,"y":2.2},{"c":6,"t":0.4,"y":2.35},{"c":6,"t":0.45,"y":2.4},{"c":6,"t":0.5,"y":2.45},{"c":6,"t":0.55,"y":2.5},{"c":6,"t":0.6,"y":2.55},{"c":6,"t":0.7,"y":2.45},{"c":6,"t":0.8,"y":2.65},{"c":6,"t":0.9,"y":2.4},{"c":6,"t":1,"y":2.3},{"c":6,"t":1.1,"y":2.5},{"c":6,"t":1.2,"y":2.45},{"c":6,"t":1.3,"y":2.4},{"c":6,"t":1.4,"y":2.2},{"c":6,"t":1.5,"y":2.3},{"c":6,"t":1.6,"y":2.45},{"c":6,"t":1.7,"y":2.5},{"c":6,"t":1.8,"y":2.4},{"c":6,"t":1.9,"y":2.35},{"c":6,"t":2,"y":2.5},
{"c":7,"t":0,"y":-0.1},{"c":7,"t":0.05,"y":-0.05},{"c":7,"t":0.1,"y":0},{"c":7,"t":0.15,"y":-0.1},{"c":7,"t":0.2,"y":-0.1},{"c":7,"t":0.25,"y":0.5},{"c":7,"t":0.3,"y":1.2},{"c":7,"t":0.35,"y":1.6},{"c":7,"t":0.4,"y":1.7},{"c":7,"t":0.45,"y":1.7},{"c":7,"t":0.5,"y":1.65},{"c":7,"t":0.55,"y":1.7},{"c":7,"t":0.6,"y":1.75},{"c":7,"t":0.7,"y":1.8},{"c":7,"t":0.8,"y":1.85},{"c":7,"t":0.9,"y":1.8},{"c":7,"t":1,"y":1.75},{"c":7,"t":1.1,"y":1.8},{"c":7,"t":1.2,"y":1.85},{"c":7,"t":1.3,"y":1.8},{"c":7,"t":1.4,"y":1.9},{"c":7,"t":1.5,"y":1.85},{"c":7,"t":1.6,"y":1.6},{"c":7,"t":1.7,"y":1.5},{"c":7,"t":1.8,"y":1.65},{"c":7,"t":1.9,"y":1.8},{"c":7,"t":2,"y":1.75},
{"c":8,"t":0,"y":0.05},{"c":8,"t":0.05,"y":0},{"c":8,"t":0.1,"y":-0.05},{"c":8,"t":0.15,"y":0},{"c":8,"t":0.2,"y":-0.05},{"c":8,"t":0.25,"y":0.75},{"c":8,"t":0.3,"y":1.7},{"c":8,"t":0.35,"y":2.15},{"c":8,"t":0.4,"y":2.3},{"c":8,"t":0.45,"y":2.25},{"c":8,"t":0.5,"y":2.2},{"c":8,"t":0.55,"y":2.25},{"c":8,"t":0.6,"y":2.2},{"c":8,"t":0.7,"y":2.2},{"c":8,"t":0.8,"y":2.15},{"c":8,"t":0.9,"y":2.1},{"c":8,"t":1,"y":2.1},{"c":8,"t":1.1,"y":2.05},{"c":8,"t":1.2,"y":2.1},{"c":8,"t":1.3,"y":2},{"c":8,"t":1.4,"y":2.05},{"c":8,"t":1.5,"y":2.1},{"c":8,"t":1.6,"y":2.15},{"c":8,"t":1.7,"y":2.2},{"c":8,"t":1.8,"y":2.3},{"c":8,"t":1.9,"y":2.45},{"c":8,"t":2,"y":2.35},
{"c":9,"t":0,"y":-0.05},{"c":9,"t":0.05,"y":0.05},{"c":9,"t":0.1,"y":0},{"c":9,"t":0.15,"y":-0.05},{"c":9,"t":0.2,"y":-0.1},{"c":9,"t":0.25,"y":0.55},{"c":9,"t":0.3,"y":1.35},{"c":9,"t":0.35,"y":1.8},{"c":9,"t":0.4,"y":2},{"c":9,"t":0.45,"y":2.1},{"c":9,"t":0.5,"y":2.15},{"c":9,"t":0.55,"y":2.2},{"c":9,"t":0.6,"y":2.1},{"c":9,"t":0.7,"y":2},{"c":9,"t":0.8,"y":1.9},{"c":9,"t":0.9,"y":1.95},{"c":9,"t":1,"y":2.05},{"c":9,"t":1.1,"y":2.15},{"c":9,"t":1.2,"y":2.2},{"c":9,"t":1.3,"y":2.1},{"c":9,"t":1.4,"y":2},{"c":9,"t":1.5,"y":1.95},{"c":9,"t":1.6,"y":1.9},{"c":9,"t":1.7,"y":1.95},{"c":9,"t":1.8,"y":2},{"c":9,"t":1.9,"y":1.9},{"c":9,"t":2,"y":1.8},
{"c":10,"t":0,"y":0},{"c":10,"t":0.05,"y":-0.05},{"c":10,"t":0.1,"y":0},{"c":10,"t":0.15,"y":0.05},{"c":10,"t":0.2,"y":-0.1},{"c":10,"t":0.25,"y":0.65},{"c":10,"t":0.3,"y":1.55},{"c":10,"t":0.35,"y":2},{"c":10,"t":0.4,"y":2.2},{"c":10,"t":0.45,"y":2.3},{"c":10,"t":0.5,"y":2.35},{"c":10,"t":0.55,"y":2.4},{"c":10,"t":0.6,"y":2.35},{"c":10,"t":0.7,"y":2.3},{"c":10,"t":0.8,"y":2.35},{"c":10,"t":0.9,"y":2.5},{"c":10,"t":1,"y":2.45},{"c":10,"t":1.1,"y":2.6},{"c":10,"t":1.2,"y":2.55},{"c":10,"t":1.3,"y":2.4},{"c":10,"t":1.4,"y":2.35},{"c":10,"t":1.5,"y":2.5},{"c":10,"t":1.6,"y":2.3},{"c":10,"t":1.7,"y":2.15},{"c":10,"t":1.8,"y":2},{"c":10,"t":1.9,"y":2.1},{"c":10,"t":2,"y":2.2}
   ]},
    "mark":{"type":"line","color":"black","strokeWidth":0.9},
    "encoding":{
     "x":{"field":"t","type":"quantitative","scale":{"domain":[0,2],"nice":false},"axis":{"values":[0,0.5,1,1.5,2],"title":"Time (sec)"}},
     "y":{"field":"y","type":"quantitative","scale":{"domain":[-1,5.5],"nice":false,"zero":false},"axis":{"values":[-1,0,1,2,3,4,5],"title":"Position (deg)"}},
     "detail":{"field":"c"}}},
   {"data":{"values":[{"t":0,"y":0}]},"mark":{"type":"point","opacity":0},
    "encoding":{"x":{"field":"t","type":"quantitative","axis":{"orient":"top","values":[0,0.5,1,1.5,2],"labels":false,"title":null}},
     "y":{"field":"y","type":"quantitative","axis":{"orient":"right","values":[-1,0,1,2,3,4,5],"labels":false,"title":null}}}},
   {"data":{"values":[{"lab":"S10"}]},"mark":{"type":"text","font":"Liberation Sans","fontSize":19.5,"align":"right","baseline":"alphabetic"},
    "encoding":{"x":{"datum":1.88,"type":"quantitative","axis":null},"y":{"datum":-0.65,"type":"quantitative","axis":null},"text":{"field":"lab"}}}
  ],
  "resolve":{"axis":{"x":"independent","y":"independent"}}}
 ]}
],
"spacing":12
}
